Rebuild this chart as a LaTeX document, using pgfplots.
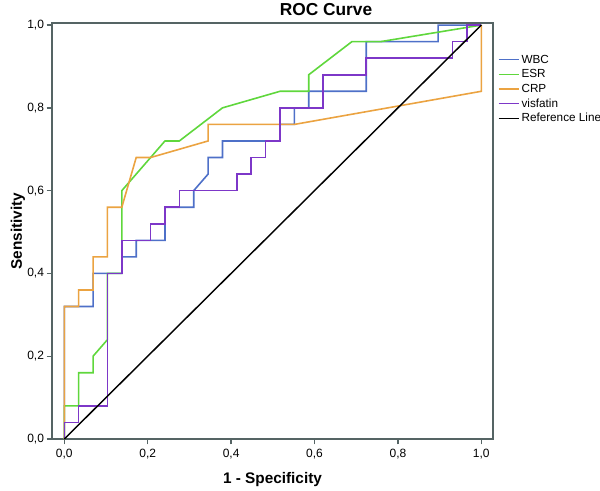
\documentclass[border=0pt]{standalone}
\usepackage{fontspec}
\setmainfont{Liberation Sans}
\usepackage{pgfplots}
\pgfplotsset{compat=1.18}
\definecolor{cwbc}{RGB}{78,112,200}
\definecolor{cesr}{RGB}{95,215,60}
\definecolor{ccrp}{RGB}{235,163,65}
\definecolor{cvis}{RGB}{125,55,200}
\definecolor{caxis}{RGB}{85,100,100}
\begin{document}
\begin{tikzpicture}
\useasboundingbox (-39pt,-38.25pt) rectangle (411pt,329.25pt);
\begin{axis}[at={(0,0)}, anchor=south west, scale only axis,
  width=330.75pt, height=312pt,
  xmin=-0.0295, xmax=1.028, ymin=0, ymax=1.005,
  clip=false,
  xtick={0,0.2,0.4,0.6,0.8,1}, ytick={0,0.2,0.4,0.6,0.8,1},
  tick align=outside, major tick length=4pt,
  xtick pos=lower, ytick pos=left,
  axis line style={draw=caxis, line width=1.1pt},
  tick style={draw=caxis, line width=1pt},
  /pgf/number format/.cd, fixed, fixed zerofill, precision=1, use comma, assume math mode=true,
  /pgfplots/.cd,
  ticklabel style={font=\fontsize{9}{10}\selectfont},
  yticklabel style={xshift=1.5pt},
  title={ROC Curve},
  title style={at={(axis description cs:0.6213,1.012)}, anchor=center, font=\bfseries\fontsize{13}{15}\selectfont},
  xlabel={1 - Specificity},
  xlabel style={at={(axis description cs:0.5,-0.0985)}, anchor=center, font=\bfseries\fontsize{11.5}{13}\selectfont},
  ylabel={Sensitivity},
  ylabel style={at={(axis description cs:-0.0771,0.5)}, anchor=center, rotate=0, font=\bfseries\fontsize{11.5}{13}\selectfont},
  legend style={at={([xshift=3.5pt,yshift=-22.8pt]axis description cs:1,1)}, anchor=north west,
    draw=none, fill=none, inner sep=0pt, font=\fontsize{8.8}{10}\selectfont,
    nodes={inner sep=0pt, text height=7pt, text depth=2pt},
    row sep=2pt, column sep=1.5pt},
  legend cell align=left,
  legend image code/.code={\draw[#1] (0pt,0pt) -- (15pt,0pt);},
]
\addplot[cwbc, line width=1.2pt] coordinates {
(0,0)(0,0.32)(0.06897,0.32)(0.06897,0.40)(0.13793,0.40)(0.13793,0.44)(0.17241,0.44)(0.17241,0.48)
(0.24138,0.48)(0.24138,0.56)(0.31034,0.56)(0.31034,0.60)(0.34483,0.64)(0.34483,0.68)(0.37931,0.68)
(0.37931,0.72)(0.51724,0.72)(0.51724,0.76)(0.55172,0.76)(0.55172,0.80)(0.58621,0.80)(0.58621,0.84)
(0.72414,0.84)(0.72414,0.96)(0.89655,0.96)(0.89655,1)(1,1)};
\addlegendentry{WBC}
\addplot[cesr, line width=1.2pt] coordinates {
(0,0)(0,0.08)(0.03448,0.08)(0.03448,0.16)(0.06897,0.16)(0.06897,0.20)(0.10345,0.24)(0.10345,0.40)
(0.13793,0.40)(0.13793,0.60)(0.24138,0.72)(0.27586,0.72)(0.37931,0.80)(0.51724,0.84)(0.58621,0.84)
(0.58621,0.88)(0.68966,0.96)(0.75862,0.96)(1,1)};
\addlegendentry{ESR}
\addplot[ccrp, line width=1.2pt] coordinates {
(0,0)(0,0.32)(0.03448,0.32)(0.03448,0.36)(0.06897,0.36)(0.06897,0.44)(0.10345,0.44)(0.10345,0.56)
(0.13793,0.56)(0.17241,0.68)(0.2069,0.68)(0.34483,0.72)(0.34483,0.76)(0.55172,0.76)(1,0.84)(1,1)};
\addlegendentry{CRP}
\addplot[cvis, line width=1.2pt] coordinates {
(0,0)(0,0.04)(0.03448,0.04)(0.03448,0.08)(0.10345,0.08)(0.10345,0.40)(0.13793,0.40)(0.13793,0.48)
(0.2069,0.48)(0.2069,0.52)(0.24138,0.52)(0.24138,0.56)(0.27586,0.56)(0.27586,0.60)(0.41379,0.60)
(0.41379,0.64)(0.44828,0.64)(0.44828,0.68)(0.48276,0.68)(0.48276,0.72)(0.51724,0.72)(0.51724,0.80)
(0.62069,0.80)(0.62069,0.88)(0.72414,0.88)(0.72414,0.92)(0.93103,0.92)(0.93103,0.96)(0.96552,0.96)
(0.96552,1)(1,1)};
\addlegendentry{visfatin}
\addplot[black, line width=1.1pt] coordinates {(0,0)(1,1)};
\addlegendentry{Reference Line}
\end{axis}
\end{tikzpicture}
\end{document}
